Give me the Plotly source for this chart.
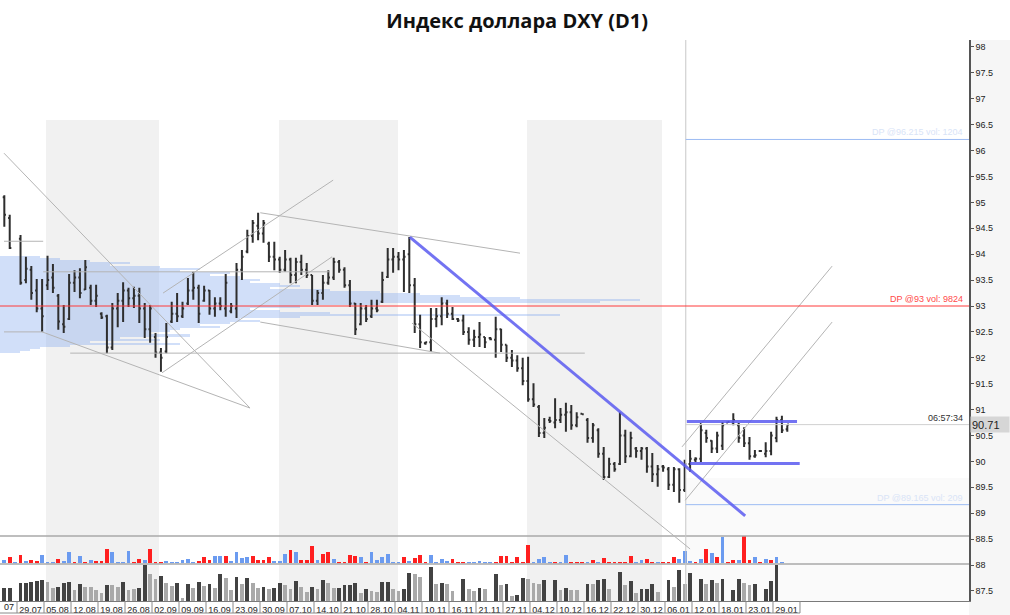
import plotly.graph_objects as go

title_text = "Индекс доллара DXY (D1)"

date_labels = ["29.07", "05.08", "12.08", "19.08", "26.08", "02.09", "09.09", "16.09",
               "23.09", "30.09", "07.10", "14.10", "21.10", "28.10", "04.11", "10.11",
               "16.11", "21.11", "27.11", "04.12", "10.12", "16.12", "22.12", "30.12",
               "06.01", "12.01", "18.01", "23.01", "29.01"]
price_ticks = [87.5, 88, 88.5, 89, 89.5, 90, 90.5, 91, 91.5, 92, 92.5, 93, 93.5, 94,
               94.5, 95, 95.5, 96, 96.5, 97, 97.5, 98]

# ---- daily OHLC (bar index 0..145), index 2 has no data ----
open_ = [95.10, 94.70, None, 94.30, 93.50, 93.70, 93.30, 92.95, 93.40, 93.55,
         93.20, 92.65, 92.75, 93.45, 93.55, 93.32, 93.35, 93.10, 92.85, 92.80,
         92.20, 92.95, 93.10, 93.30, 93.15, 93.20, 92.95, 92.55, 92.40, 92.10,
         92.12, 92.70, 92.85, 92.80, 93.05, 93.30, 93.35, 93.10, 93.30, 92.95,
         93.05, 92.95, 92.90, 92.95, 93.70, 94.05, 94.35, 94.55, 94.40, 94.20,
         93.95, 93.90, 93.70, 93.90, 93.60, 93.85, 93.70, 93.60, 93.10, 93.25,
         93.45, 93.55, 93.85, 93.70, 93.40, 93.05, 92.65, 92.95, 92.80, 92.95,
         93.08, 93.56, 93.90, 93.95, 93.90, 94.00, 93.40, 92.65, 92.28, 92.30,
         92.75, 92.80, 93.05, 92.85, 92.75, 92.72, 92.50, 92.35, 92.40, 92.40,
         92.38, 92.35, 92.55, 92.25, 92.00, 91.95, 91.80, 91.55, 91.20, 91.05,
         90.55, 90.80, 90.75, 90.80, 90.90, 90.95, 90.70, 90.92, 90.80, 90.45,
         90.60, 90.15, 89.70, 89.95, 89.95, 90.50, 90.10, 90.25, 90.20, 90.25,
         89.90, 89.75, 89.90, 89.85, 89.55, 89.85, 89.45, 89.95, 90.03, 90.05,
         90.55, 90.40, 90.25, 90.30, 90.75, 90.75, 90.70, 90.50, 90.35, 90.10,
         90.20, 90.15, 90.20, 90.45, 90.80, 90.62]
high = [95.14, 94.76, None, 94.37, 93.95, 93.77, 93.52, 93.52, 93.97, 93.81,
        93.23, 93.02, 93.62, 93.69, 93.73, 93.89, 93.41, 93.41, 92.88, 92.83,
        93.06, 93.25, 93.46, 93.35, 93.37, 93.35, 93.06, 93.02, 92.48, 92.19,
        92.67, 93.08, 93.25, 93.08, 93.54, 93.66, 93.41, 93.39, 93.31, 93.17,
        93.17, 93.62, 93.06, 93.83, 94.08, 94.47, 94.66, 94.80, 94.66, 94.24,
        94.24, 93.95, 94.08, 93.93, 93.93, 93.99, 93.83, 93.60, 93.31, 93.60,
        93.69, 93.93, 93.89, 93.75, 93.50, 93.06, 93.06, 93.02, 93.12, 93.12,
        93.66, 94.12, 94.12, 94.04, 94.08, 94.33, 93.54, 92.83, 92.31, 92.96,
        92.96, 93.17, 93.12, 92.98, 92.77, 92.83, 92.59, 92.54, 92.69, 92.40,
        92.40, 92.79, 92.56, 92.25, 92.15, 92.05, 92.00, 92.02, 91.51, 91.09,
        90.84, 90.86, 91.22, 91.03, 91.13, 91.09, 90.95, 90.93, 90.84, 90.74,
        90.64, 90.28, 90.07, 89.99, 90.95, 90.61, 90.57, 90.28, 90.28, 90.28,
        90.16, 89.93, 89.93, 89.89, 89.89, 89.87, 90.03, 90.22, 90.08, 90.74,
        90.61, 90.41, 90.57, 90.76, 90.76, 90.93, 90.74, 90.66, 90.47, 90.22,
        90.22, 90.37, 90.57, 90.86, 90.88, 90.70]
low = [94.53, 94.10, None, 93.41, 93.44, 93.12, 92.88, 92.50, 93.31, 93.25,
       92.54, 92.48, 92.73, 93.27, 93.15, 93.31, 93.02, 92.98, 92.75, 92.09,
       92.15, 92.59, 92.69, 92.98, 92.96, 92.67, 92.38, 92.29, 92.00, 91.73,
       92.09, 92.67, 92.69, 92.77, 93.02, 93.12, 92.67, 93.08, 92.83, 92.79,
       92.92, 92.79, 92.86, 92.77, 93.50, 94.02, 94.22, 94.27, 94.22, 93.85,
       93.69, 93.64, 93.66, 93.44, 93.44, 93.60, 93.54, 93.02, 93.02, 93.12,
       93.41, 93.50, 93.64, 93.35, 92.98, 92.44, 92.63, 92.69, 92.77, 92.88,
       93.06, 93.54, 93.64, 93.69, 93.27, 93.25, 92.48, 92.19, 92.25, 92.11,
       92.59, 92.63, 92.77, 92.73, 92.69, 92.44, 92.25, 92.21, 92.21, 92.19,
       92.34, 92.00, 92.11, 91.92, 91.82, 91.73, 91.47, 91.15, 91.05, 90.47,
       90.45, 90.74, 90.64, 90.74, 90.57, 90.61, 90.66, 90.90, 90.36, 90.36,
       90.07, 89.64, 89.68, 89.80, 89.93, 89.97, 90.08, 90.07, 90.03, 89.78,
       89.60, 89.51, 89.80, 89.45, 89.41, 89.20, 89.41, 89.80, 89.99, 89.99,
       90.36, 90.16, 90.16, 90.22, 90.74, 90.70, 90.36, 90.28, 90.03, 90.07,
       90.18, 90.08, 90.12, 90.37, 90.55, 90.57]
close = [94.76, 94.12, None, 93.45, 93.72, 93.25, 92.95, 92.80, 93.50, 93.35,
         92.70, 92.60, 93.45, 93.55, 93.25, 93.75, 93.10, 93.20, 92.78, 92.20,
         92.95, 93.10, 93.30, 93.15, 93.20, 92.95, 92.55, 92.95, 92.10, 92.00,
         92.40, 92.85, 92.80, 92.95, 93.30, 93.35, 92.85, 93.30, 92.95, 93.05,
         93.00, 93.45, 93.00, 93.70, 93.95, 94.35, 94.60, 94.40, 94.60, 93.95,
         93.90, 93.70, 93.90, 93.60, 93.85, 93.70, 93.60, 93.10, 93.25, 93.45,
         93.55, 93.85, 93.70, 93.40, 93.05, 92.55, 92.95, 92.75, 92.95, 92.92,
         93.50, 93.90, 93.95, 93.90, 93.95, 93.40, 92.65, 92.30, 92.30, 92.75,
         92.80, 93.05, 92.85, 92.75, 92.72, 92.50, 92.35, 92.40, 92.45, 92.30,
         92.36, 92.55, 92.25, 92.00, 91.95, 91.80, 91.55, 91.20, 91.10, 90.55,
         90.65, 90.78, 90.80, 90.90, 90.95, 90.70, 90.85, 90.91, 90.45, 90.70,
         90.15, 89.70, 89.95, 89.85, 90.50, 90.10, 90.45, 90.20, 90.25, 89.90,
         89.75, 89.85, 89.88, 89.55, 89.85, 89.45, 89.95, 90.05, 90.05, 90.60,
         90.45, 90.25, 90.50, 90.70, 90.76, 90.80, 90.45, 90.35, 90.10, 90.12,
         90.20, 90.20, 90.50, 90.80, 90.60, 90.71]

# ---- volume panel 1 (coloured): value and side (1 = blue, 0 = red) ----
vol_top = [10, 17, 2, 25, 7, 10, 5, 25, 2, 2, 13, 5, 32, 2, 20, 2, 8, 5, 5, 42,
           32, 1, 1, 37, 2, 12, 8, 42, 2, 1, 6, 1, 3, 10, 13, 3, 7, 17, 8, 22,
           20, 22, 7, 33, 15, 17, 20, 8, 8, 17, 7, 7, 28, 40, 33, 10, 8, 50, 8, 28,
           33, 13, 4, 1, 25, 22, 18, 4, 32, 10, 17, 28, 1, 1, 17, 7, 15, 25, 1, 25,
           1, 13, 7, 12, 1, 4, 1, 1, 7, 1, 1, 1, 20, 22, 1, 18, 2, 55, 2, 12,
           18, 1, 4, 1, 25, 1, 1, 1, 3, 8, 1, 15, 1, 1, 1, 1, 22, 1, 10, 12,
           1, 4, 1, 4, 17, 12, 35, 7, 4, 12, 43, 30, 17, 77, 1, 8, 8, 80, 8, 17,
           1, 13, 8, 17, 2, 0]
vol_top_side = [1, 0, 1, 0, 1, 0, 0, 1, 1, 1, 0, 1, 1, 0, 1, 0, 1, 0, 0, 0,
                1, 1, 1, 1, 0, 0, 1, 0, 0, 0, 1, 1, 1, 1, 1, 1, 0, 0, 0, 1,
                1, 0, 1, 1, 1, 1, 0, 0, 0, 0, 1, 1, 1, 0, 1, 0, 0, 0, 1, 0,
                0, 1, 0, 0, 0, 0, 1, 0, 1, 1, 1, 1, 1, 1, 0, 1, 0, 0, 0, 1,
                1, 1, 1, 0, 0, 0, 1, 1, 1, 1, 1, 0, 0, 0, 0, 0, 0, 0, 1, 1,
                1, 1, 0, 1, 1, 0, 0, 0, 1, 0, 1, 0, 0, 0, 0, 0, 0, 1, 1, 0,
                0, 1, 0, 0, 0, 1, 1, 1, 0, 1, 0, 1, 0, 1, 0, 0, 1, 0, 0, 1,
                0, 1, 0, 1, 1, 1]

# ---- volume panel 2 (grey): value and shade (1 = dark, 0 = light) ----
vol_bot = [38, 38, 0, 53, 53, 57, 60, 63, 57, 38, 43, 55, 58, 33, 50, 43, 42, 32, 25, 47,
           47, 42, 57, 33, 35, 40, 110, 80, 65, 75, 53, 45, 55, 10, 50, 40, 58, 45, 50, 40,
           80, 70, 32, 73, 50, 70, 53, 40, 43, 35, 40, 55, 47, 37, 59, 43, 28, 41, 37, 63,
           53, 38, 40, 48, 49, 53, 25, 37, 29, 28, 57, 58, 37, 29, 37, 85, 80, 72, 0, 102,
           50, 53, 52, 29, 0, 65, 37, 29, 40, 37, 0, 82, 48, 50, 15, 17, 70, 67, 55, 50,
           62, 0, 63, 33, 40, 33, 33, 0, 50, 50, 63, 65, 37, 0, 88, 47, 59, 23, 37, 37,
           50, 27, 0, 62, 42, 92, 50, 85, 0, 67, 50, 62, 53, 65, 0, 32, 65, 55, 47, 51,
           0, 37, 59, 108, 0, 0]
vol_bot_shade = [1, 1, 1, 1, 1, 1, 1, 1, 0, 0, 1, 1, 1, 0, 1, 0, 0, 0, 0, 1,
                 0, 0, 1, 0, 0, 1, 1, 0, 0, 1, 0, 0, 1, 0, 1, 0, 1, 0, 1, 0,
                 1, 0, 0, 1, 0, 1, 0, 0, 1, 0, 1, 1, 0, 0, 1, 0, 0, 1, 0, 1,
                 0, 0, 1, 1, 1, 1, 0, 1, 0, 0, 1, 1, 0, 0, 1, 1, 0, 0, 1, 1,
                 0, 1, 0, 0, 1, 1, 0, 0, 1, 0, 1, 1, 0, 1, 0, 1, 1, 0, 0, 0,
                 1, 1, 1, 0, 1, 0, 0, 1, 1, 0, 1, 1, 0, 1, 1, 0, 1, 0, 1, 1,
                 1, 0, 1, 1, 0, 1, 0, 1, 1, 1, 0, 1, 0, 1, 1, 1, 1, 0, 0, 1,
                 1, 1, 1, 1, 1, 1]

# ---- volume profile (price level -> volume) ----
profile_price = [93.95, 93.91, 93.87, 93.83, 93.79, 93.75, 93.71, 93.67, 93.63, 93.59,
                 93.55, 93.51, 93.47, 93.43, 93.39, 93.35, 93.31, 93.27, 93.23, 93.19,
                 93.15, 93.11, 93.07, 93.03, 92.99, 92.95, 92.91, 92.87, 92.83, 92.79,
                 92.75, 92.71, 92.67, 92.63, 92.59, 92.55, 92.51, 92.47, 92.43, 92.39,
                 92.35, 92.31, 92.27, 92.23, 92.19, 92.15, 92.11]
profile_vol = [40, 60, 90, 130, 110, 160, 200, 180, 230, 210,
               240, 260, 250, 280, 300, 270, 330, 380, 420, 460,
               520, 640, 600, 380, 300, 250, 280, 330, 560, 300,
               240, 260, 230, 200, 220, 180, 170, 150, 190, 120,
               160, 90, 180, 70, 40, 30, 20]
profile_scale = 1 / 5.4  # volume units -> bar-index units

# ---- drawn objects (bar index, price) ----
grey_lines = [
    ((-0.06, 95.95), (45.5, 91.03)),
    ((7.0, 92.50), (45.5, 91.03)),
    ((29.4, 93.25), (60.9, 95.43)),
    ((29.2, 91.71), (60.7, 93.95)),
    ((47.4, 94.80), (95.5, 94.02)),
    ((47.4, 92.69), (80.7, 92.09)),
    ((-0.06, 94.25), (7.2, 94.25)),
    ((7.2, 93.66), (60.3, 93.66)),
    ((-0.06, 92.50), (7.2, 92.50)),
    ((12.2, 92.09), (107.5, 92.09)),
    ((75.5, 92.67), (127.0, 88.31)),
    ((125.5, 90.28), (153.3, 93.77)),
    ((126.1, 89.25), (153.3, 92.69)),
]
blue_lines = [
    ((75.1, 94.33), (137.2, 88.95)),
    ((126.4, 90.77), (146.8, 90.77)),
    ((127.0, 89.96), (147.3, 89.96)),
]
month_bands = [(7.72, 28.65), (50.87, 72.9), (96.8, 121.8)]
session_split = 126.2
dp_main = 93.0
dp_upper = 96.215
dp_lower = 89.165
last_price = 90.71

X0, X1 = -0.8, 178.65
Y0, Y1 = 87.305, 98.135
FONT = "Liberation Sans"

fig = go.Figure()

# volume profile
fig.add_trace(go.Bar(
    orientation="h", y=profile_price, x=[v * profile_scale for v in profile_vol],
    base=X0, width=0.04, marker=dict(color="rgba(120,162,238,0.34)", line_width=0),
    hoverinfo="skip", showlegend=False))

# OHLC
idx = [i for i in range(len(close)) if close[i] is not None]
fig.add_trace(go.Ohlc(
    x=idx, open=[open_[i] for i in idx], high=[high[i] for i in idx],
    low=[low[i] for i in idx], close=[close[i] for i in idx],
    increasing=dict(line=dict(color="#2e2e2e", width=2)),
    decreasing=dict(line=dict(color="#2e2e2e", width=2)),
    tickwidth=0.3, hoverinfo="skip", showlegend=False))

# volumes
xv = list(range(len(vol_top)))
fig.add_trace(go.Bar(
    x=xv, y=vol_top, yaxis="y2", width=0.72,
    marker=dict(color=["#6b9bf0" if s else "#ff1f1f" for s in vol_top_side], line_width=0),
    hoverinfo="skip", showlegend=False))
fig.add_trace(go.Bar(
    x=xv, y=vol_bot, yaxis="y3", width=0.72,
    marker=dict(color=["#424242" if s else "#a9a9a9" for s in vol_bot_shade], line_width=0),
    hoverinfo="skip", showlegend=False))

shapes = []
shapes.append(dict(type="rect", xref="paper", yref="paper", x0=1, x1=1.05, y0=-0.03, y1=1.0,
                   fillcolor="#f6f6f6", line_width=0, layer="below"))
for a, b in month_bands:
    shapes.append(dict(type="rect", xref="x", yref="y", x0=a, x1=b, y0=Y0, y1=96.59,
                       fillcolor="#f1f1f1", line_width=0, layer="below"))
shapes.append(dict(type="rect", xref="x", yref="y", x0=session_split, x1=X1, y0=Y0, y1=89.68,
                   fillcolor="#fafafa", line_width=0, layer="below"))
for lvl in (88.56, 88.02):
    shapes.append(dict(type="line", xref="paper", yref="y", x0=0, x1=1, y0=lvl, y1=lvl,
                       line=dict(color="#a8a8a8", width=1.5)))
shapes.append(dict(type="line", xref="x", yref="paper", x0=session_split, x1=session_split,
                   y0=0, y1=1, line=dict(color="#c8c8c8", width=1)))
for (xa, ya), (xb, yb) in grey_lines:
    shapes.append(dict(type="line", xref="x", yref="y", x0=xa, y0=ya, x1=xb, y1=yb,
                       line=dict(color="#b4b4b4", width=1)))
shapes.append(dict(type="line", xref="paper", yref="y", x0=0, x1=1, y0=dp_main, y1=dp_main,
                   line=dict(color="#ff3b3b", width=1)))
for lvl in (dp_upper, dp_lower):
    shapes.append(dict(type="line", xref="x", yref="y", x0=session_split, x1=X1, y0=lvl, y1=lvl,
                       line=dict(color="#9cbcf3", width=1)))
shapes.append(dict(type="line", xref="x", yref="y", x0=session_split, x1=X1, y0=last_price,
                   y1=last_price, line=dict(color="#d0d0d0", width=1)))
for (xa, ya), (xb, yb) in blue_lines:
    shapes.append(dict(type="line", xref="x", yref="y", x0=xa, y0=ya, x1=xb, y1=yb,
                       line=dict(color="rgba(90,90,240,0.85)", width=3)))

# date label boxes (one box per 5 bars)
tick_pos = [4.85 + 5 * k for k in range(len(date_labels))]
box_h = -12 / 561
for k in range(len(date_labels) + 1):
    xb = tick_pos[0] - 2.5 + 5 * k
    shapes.append(dict(type="line", xref="x", yref="paper", x0=xb, x1=xb, y0=0, y1=box_h,
                       line=dict(color="#8a8a8a", width=1)))
shapes.append(dict(type="line", xref="x", yref="paper", x0=X0, x1=tick_pos[-1] + 2.5,
                   y0=box_h, y1=box_h, line=dict(color="#8a8a8a", width=1)))

annotations = [
    dict(text="DP @93 vol: 9824", xref="paper", yref="y", x=0.996, y=dp_main,
         xanchor="right", yanchor="bottom", showarrow=False,
         font=dict(family=FONT, size=9, color="#ff4a4a")),
    dict(text="DP @96.215 vol: 1204", xref="paper", yref="y", x=0.996, y=dp_upper,
         xanchor="right", yanchor="bottom", showarrow=False,
         font=dict(family=FONT, size=9, color="#d9e4f7")),
    dict(text="DP @89.165 vol: 209", xref="paper", yref="y", x=0.996, y=dp_lower,
         xanchor="right", yanchor="bottom", showarrow=False,
         font=dict(family=FONT, size=9, color="#d9e4f7")),
    dict(text="06:57:34", xref="paper", yref="y", x=0.996, y=last_price,
         xanchor="right", yanchor="bottom", showarrow=False,
         font=dict(family=FONT, size=9, color="#333333")),
    dict(text="90.71", xref="paper", yref="y", x=1.001, y=last_price,
         xanchor="left", yanchor="middle", showarrow=False, bgcolor="#d6d6d6",
         width=36, height=13, align="left",
         font=dict(family=FONT, size=11, color="#222222")),
    dict(text="07", xref="paper", yref="paper", x=0.002, y=box_h / 2,
         xanchor="left", yanchor="middle", showarrow=False,
         font=dict(family=FONT, size=9, color="#222222")),
]

fig.update_layout(
    width=1010, height=615,
    margin=dict(l=0, r=41, t=40, b=14),
    paper_bgcolor="white", plot_bgcolor="rgba(0,0,0,0)",
    title=dict(text="<b>" + title_text + "</b>", xref="container", x=0.512, xanchor="center",
               y=0.966, yanchor="middle",
               font=dict(family="Open Sans", size=20, color="#111111")),
    barmode="overlay", bargap=0, hovermode=False, showlegend=False,
    shapes=shapes, annotations=annotations,
    xaxis=dict(range=[X0, X1], showgrid=False, zeroline=False, automargin=False,
               rangeslider=dict(visible=False),
               tickmode="array", tickvals=tick_pos, ticktext=date_labels,
               ticks="", tickfont=dict(family=FONT, size=9, color="#222222"),
               showline=True, linecolor="#7a7a7a", linewidth=1),
    yaxis=dict(range=[Y0, Y1], side="right", showgrid=False, zeroline=False, automargin=False,
               tickmode="array", tickvals=price_ticks,
               ticktext=[("%g" % v) for v in price_ticks],
               ticks="outside", ticklen=3, tickcolor="#555555",
               tickfont=dict(family=FONT, size=9, color="#222222"),
               showline=True, linecolor="#555555", linewidth=1.5),
    yaxis2=dict(domain=[0.0672, 0.1672], range=[0, 168.3], anchor="x", visible=False,
                fixedrange=True),
    yaxis3=dict(domain=[0.0, 0.0642], range=[0, 108], anchor="x", visible=False,
                fixedrange=True),
)

fig.write_html("out.html", config={"displayModeBar": False},
               post_script="document.body.style.margin='0px';")
